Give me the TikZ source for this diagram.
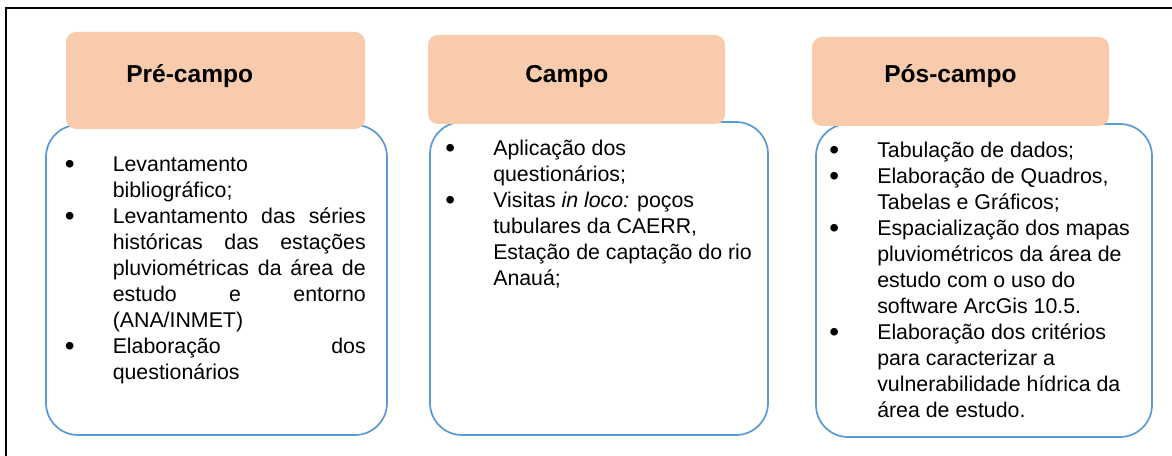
\documentclass[tikz,border=0pt]{standalone}
\usepackage{fontspec}
\setmainfont{Liberation Sans}
\usepackage{tikz}

\definecolor{laranja}{HTML}{F8CBAD}
\definecolor{azul}{HTML}{5B9BD5}

\newcommand{\bul}{\makebox[36pt][l]{\raisebox{-1.6pt}{\fontsize{21pt}{0pt}\selectfont\textbullet}}}
\newcommand{\ind}{\hspace*{36pt}}
\newcommand{\jus}[1]{\makebox[189.75pt][s]{#1}}

\tikzset{
    cabec/.style={fill=laranja, rounded corners=7.5pt},
    corpo/.style={draw=azul, line width=1.3pt, rounded corners=24pt},
    titulo/.style={font=\fontsize{18.4pt}{22pt}\selectfont\bfseries, inner sep=0pt, anchor=base west},
    lista/.style={font=\fontsize{16pt}{19.5pt}\selectfont, align=left, inner sep=0pt, anchor=north west},
}

\begin{document}
\begin{tikzpicture}[x=0.75pt, y=-0.75pt]

    %% Background
    \useasboundingbox (0,0) rectangle (1172,456);
    \draw[line width=1.5pt] (6,456) -- (6,8) -- (1172,8);

    % Body boxes
    \draw[corpo] (46,125) rectangle (387,435);
    \draw[corpo] (430,122) rectangle (768,435);
    \draw[corpo] (816,124) rectangle (1152,437);

    % Headers
    \fill[cabec] (66,32) rectangle (365,129);
    \fill[cabec] (428,35) rectangle (725,124);
    \fill[cabec] (812,37) rectangle (1109,126);

    \node[titulo] (titpre) at (126,83) {Pré-campo};
    \node[titulo] (titcampo) at (525,83) {Campo};
    \node[titulo] (titpos) at (884,83) {Pós-campo};

    % Lists
    \node[lista] (lstpre) at (64.5,152.8) {\strut\bul Levantamento\\
        \ind bibliográfico;\\
        \bul\jus{Levantamento das séries}\\
        \ind\jus{históricas das estações}\\
        \ind\jus{pluviométricas da área de}\\
        \ind\jus{estudo e entorno}\\
        \ind (ANA/INMET)\\
        \bul\jus{Elaboração dos}\\
        \ind questionários};

    \node[lista] (lstcampo) at (445,136.8) {\strut\bul Aplicação dos\\
        \ind questionários;\\
        \bul Visitas \textit{in loco:} poços\\
        \ind tubulares da CAERR,\\
        \ind Estação de captação do rio\\
        \ind Anauá;};

    \node[lista] (lstpos) at (829,138.8) {\strut\bul Tabulação de dados;\\
        \bul Elaboração de Quadros,\\
        \ind Tabelas e Gráficos;\\
        \bul Espacialização dos mapas\\
        \ind pluviométricos da área de\\
        \ind estudo com o uso do\\
        \ind software ArcGis 10.5.\\
        \bul Elaboração dos critérios\\
        \ind para caracterizar a\\
        \ind vulnerabilidade hídrica da\\
        \ind área de estudo.};

\end{tikzpicture}
\end{document}
